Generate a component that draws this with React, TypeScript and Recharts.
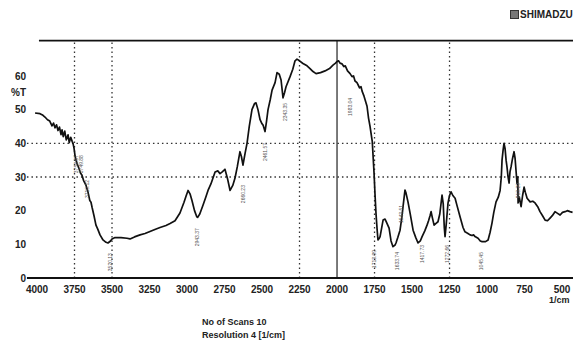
import React from 'react';
import { LineChart, Line, XAxis, YAxis, ReferenceLine, ReferenceDot } from 'recharts';

const wavenumbers = [
  4013, 3980, 3960, 3947, 3930, 3915, 3900, 3890, 3880, 3870, 3860, 3850, 3840, 3833, 3825, 3815, 3805, 3793, 3785, 3775,
  3765, 3760, 3753, 3747, 3740, 3733, 3720, 3710, 3700, 3690, 3673, 3660, 3648, 3640, 3633, 3620, 3607, 3595, 3580, 3560,
  3540, 3527, 3510, 3500, 3480, 3440, 3400, 3380, 3350, 3313, 3280, 3247, 3210, 3180, 3140, 3113, 3080, 3047, 3020, 3005,
  2993, 2980, 2967, 2950, 2935, 2929, 2915, 2893, 2875, 2860, 2840, 2813, 2795, 2780, 2765, 2747, 2730, 2713, 2695, 2680,
  2665, 2647, 2637, 2627, 2613, 2600, 2585, 2567, 2550, 2540, 2527, 2513, 2500, 2493, 2480, 2470, 2460, 2445, 2433, 2413,
  2400, 2385, 2373, 2360, 2350, 2340, 2313, 2295, 2280, 2267, 2250, 2227, 2200, 2180, 2160, 2140, 2110, 2080, 2050, 2027,
  2010, 2000, 1990, 1980, 1967, 1955, 1945, 1930, 1913, 1900, 1890, 1880, 1867, 1850, 1840, 1833, 1820, 1810, 1800, 1790,
  1780, 1770, 1765, 1760, 1753, 1747, 1740, 1733, 1727, 1718, 1713, 1700, 1693, 1680, 1670, 1653, 1640, 1627, 1613, 1607,
  1595, 1580, 1568, 1560, 1550, 1547, 1540, 1527, 1510, 1493, 1475, 1460, 1445, 1433, 1415, 1400, 1390, 1380, 1373, 1365,
  1353, 1340, 1327, 1315, 1300, 1292, 1285, 1280, 1272, 1260, 1250, 1240, 1228, 1213, 1200, 1180, 1160, 1147, 1130, 1113,
  1100, 1090, 1080, 1060, 1045, 1033, 1010, 993, 980, 967, 955, 940, 925, 913, 905, 900, 893, 887, 880, 873,
  867, 860, 853, 847, 840, 830, 820, 813, 807, 800, 795, 793, 785, 773, 763, 753, 745, 733, 713, 695,
  680, 660, 647, 630, 613, 597, 580, 565, 547, 530, 513, 497, 480, 465, 447, 430,
];

const transmittance = [
  49.0, 48.8, 48.3, 47.8, 47.0, 46.6, 45.2, 46.0, 44.6, 45.5, 43.8, 44.8, 42.6, 44.0, 42.0, 43.6, 41.0, 42.5, 40.2, 41.8,
  40.5, 40.0, 38.5, 36.5, 35.0, 34.0, 32.5, 31.2, 30.5, 29.0, 27.5, 25.5, 23.0, 22.5, 21.0, 18.5, 15.7, 14.5, 12.8, 11.3,
  10.6, 10.4, 11.0, 11.6, 12.0, 12.0, 11.8, 11.6, 12.2, 12.8, 13.2, 13.8, 14.5, 15.0, 15.6, 16.2, 17.0, 19.3, 22.5, 24.5,
  26.0, 25.0, 23.0, 20.0, 18.2, 18.0, 19.0, 21.7, 24.0, 26.0, 28.0, 31.5, 31.8, 31.0, 31.5, 32.3, 29.5, 26.0, 27.5, 29.7,
  33.0, 37.5, 36.0, 33.5, 37.0, 40.0, 45.0, 50.0, 51.8, 52.0, 50.0, 47.0, 45.8, 45.4, 43.5, 46.5, 50.0, 53.0, 55.8, 58.0,
  61.0, 60.5, 58.8, 53.5, 55.0, 56.8, 59.8, 62.0, 64.5, 65.0, 64.5, 63.7, 63.0, 62.2, 61.3, 60.7, 61.0, 61.5, 62.2, 63.2,
  63.8, 64.3, 64.5, 63.8, 63.6, 62.8, 63.0, 61.5, 60.7, 59.8, 60.0, 58.5, 58.0, 56.5, 56.8, 55.5, 54.0, 52.5, 51.0, 47.5,
  45.0, 42.0, 40.5, 36.5, 31.0, 25.0, 19.0, 14.5, 11.3, 11.8, 12.3, 15.5, 17.2, 17.5, 16.5, 14.8, 11.0, 9.3, 9.8, 10.4,
  12.0, 14.2, 18.0, 21.2, 25.0, 26.1, 25.2, 22.6, 18.5, 14.2, 12.0, 10.4, 11.0, 12.3, 14.0, 15.7, 17.0, 18.5, 19.7, 18.0,
  15.7, 16.2, 16.7, 19.0, 24.6, 22.0, 15.0, 12.3, 16.0, 22.3, 24.5, 25.6, 24.5, 23.7, 21.5, 18.2, 15.0, 13.7, 13.3, 12.8,
  12.6, 12.8, 12.3, 11.8, 11.0, 10.8, 10.8, 11.3, 13.5, 16.3, 19.5, 22.6, 24.0, 26.0, 30.0, 35.0, 38.0, 40.0, 38.5, 35.0,
  33.0, 30.0, 28.2, 31.5, 33.0, 35.5, 37.5, 35.5, 32.0, 28.0, 30.0, 22.3, 24.0, 21.2, 24.5, 27.0, 25.5, 23.7, 22.6, 22.8,
  22.3, 21.0, 19.7, 18.5, 17.2, 17.0, 17.8, 18.5, 19.7, 19.2, 18.7, 19.5, 19.7, 20.0, 19.7, 19.5,
];

const xTicks = [4000, 3750, 3500, 3250, 3000, 2750, 2500, 2250, 2000, 1750, 1500, 1250, 1000, 750, 500];
const yTicks = [0, 10, 20, 30, 40, 50, 60];
const dottedX = [3750, 3500, 2250, 1750, 1250];
const solidX = [2000];
const dottedY = [30, 40];

const peakLabels = ['3758.87', '3749.88', '3710.12', '3520.13', '2943.37', '2660.23', '2461.57', '2343.35', '1983.04', '1713.99', '1633.74', '1543.51', '1417.73', '1272.66', '1045.45', '813.29'];
const peakX = [3740, 3707, 3667, 3513, 2933, 2627, 2480, 2347, 1913, 1753, 1600, 1573, 1433, 1267, 1040, 793];
const peakY = [36.5, 36.5, 29.1, 7.4, 14.8, 27.6, 40.1, 52.0, 53.5, 8.3, 7.7, 21.7, 9.8, 9.8, 7.7, 28.2];

const data = wavenumbers.map((w, i) => ({ wn: w, t: transmittance[i] }));

const FONT = '"Liberation Sans", Arial, sans-serif';
const tickStyle = { fontSize: 10, fontWeight: 700, fill: '#222', fontFamily: FONT };

const PeakLabel = (props: any) => {
  const { viewBox, text } = props;
  if (!viewBox) return null;
  const x = viewBox.x + 2;
  const y = viewBox.y;
  return (
    <text
      x={x}
      y={y}
      transform={`rotate(-90 ${x} ${y})`}
      textAnchor="end"
      fontSize={5}
      fill="#555"
      fontFamily={FONT}
    >
      {text}
    </text>
  );
};

export default function App() {
  return (
    <div style={{ position: 'absolute', left: 0, top: 0, width: 573, height: 340, background: '#fff', overflow: 'hidden' }}>
      <LineChart width={573} height={340} data={data} margin={{ top: 40.6, right: 0, bottom: 32, left: 0 }}>
        <XAxis
          dataKey="wn"
          type="number"
          domain={[427, 4020]}
          reversed
          allowDataOverflow
          ticks={xTicks}
          height={30}
          tickSize={0}
          tickMargin={8}
          axisLine={false}
          tickLine={false}
          tick={tickStyle}
          interval={0}
        />
        <YAxis
          type="number"
          domain={[0, 70.5]}
          allowDataOverflow
          ticks={yTicks}
          width={34}
          tickSize={0}
          tickMargin={8}
          axisLine={false}
          tickLine={false}
          tick={tickStyle}
          interval={0}
        />
        {dottedX.map((v) => (
          <ReferenceLine key={'dx' + v} x={v} stroke="#333" strokeWidth={1.3} strokeDasharray="1.5 3" />
        ))}
        {solidX.map((v) => (
          <ReferenceLine key={'sx' + v} x={v} stroke="#333" strokeWidth={1.3} />
        ))}
        {dottedY.map((v) => (
          <ReferenceLine
            key={'dy' + v}
            segment={[{ x: 4067, y: v }, { x: 427, y: v }]}
            ifOverflow="visible"
            stroke="#333"
            strokeWidth={1.3}
            strokeDasharray="1.5 3"
          />
        ))}
        <ReferenceLine segment={[{ x: 3987, y: 70.5 }, { x: 427, y: 70.5 }]} ifOverflow="visible" stroke="#111" strokeWidth={1.6} />
        <ReferenceLine segment={[{ x: 4067, y: 0 }, { x: 427, y: 0 }]} ifOverflow="visible" stroke="#111" strokeWidth={2} />
        {peakLabels.map((txt, i) => (
          <ReferenceDot
            key={'pk' + i}
            x={peakX[i]}
            y={peakY[i]}
            r={0}
            fill="none"
            stroke="none"
            ifOverflow="visible"
            label={<PeakLabel text={txt} />}
          />
        ))}
        <Line type="linear" dataKey="t" stroke="#111" strokeWidth={1.7} strokeLinejoin="round" dot={false} isAnimationActive={false} />
      </LineChart>
      <div style={{ position: 'absolute', left: 510, top: 9, fontFamily: FONT, fontWeight: 700, fontSize: 10, color: '#222', display: 'flex', alignItems: 'center', whiteSpace: 'nowrap' }}>
        <span style={{ display: 'inline-block', width: 7, height: 7, border: '1.5px solid #333', background: '#777', marginRight: 1 }} />
        SHIMADZU
      </div>
      <div style={{ position: 'absolute', left: 11, top: 87, fontFamily: FONT, fontWeight: 700, fontSize: 10, color: '#222' }}>%T</div>
      <div style={{ position: 'absolute', left: 549, top: 295, fontFamily: FONT, fontWeight: 700, fontSize: 9, color: '#222' }}>1/cm</div>
      <div style={{ position: 'absolute', left: 202, top: 316, fontFamily: FONT, fontWeight: 700, fontSize: 9, color: '#222', lineHeight: '13px', whiteSpace: 'nowrap' }}>
        <div>No of Scans 10</div>
        <div>Resolution 4 [1/cm]</div>
      </div>
    </div>
  );
}
